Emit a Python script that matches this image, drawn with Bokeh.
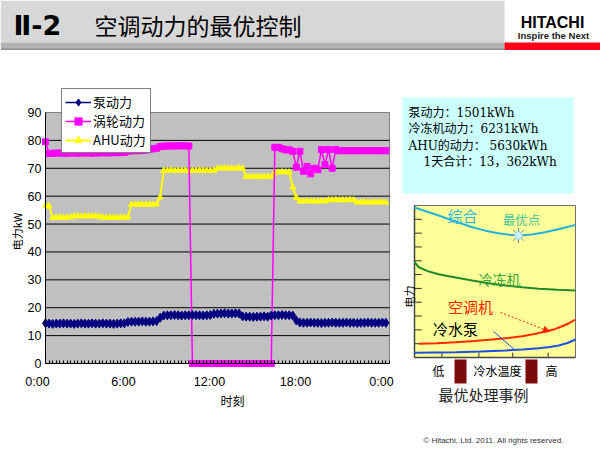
import math
from bokeh.plotting import figure
from bokeh.models import (Range1d, FixedTicker, Legend, LegendItem, Arrow, NormalHead,
                          LinearAxis)
from bokeh.core.properties import value
from bokeh.embed import file_html
from bokeh.resources import INLINE

# ---------------- data ----------------
hours = [i * 0.25 for i in range(96)]          # 15-minute samples, 0:00 .. 23:45

pump_kw = [14.4, 14.3, 14.2, 14.3, 14.3, 14.4, 14.3, 14.3, 14.2, 14.3, 14.4, 14.3,
           14.3, 14.4, 14.3, 14.3, 14.4, 14.3, 14.3, 14.2, 14.3, 14.4, 14.4,
           14.9, 15.0, 15.0, 15.0, 15.1, 15.0, 15.0, 15.1, 15.2,
           16.4,
           17.2, 17.3, 17.3, 17.4, 17.3, 17.2, 17.3, 17.3, 17.4, 17.3, 17.3, 17.2, 17.3, 17.4,
           17.8, 17.9, 17.9, 18.0, 17.9, 17.9, 18.0, 17.9,
           16.9, 16.8, 16.8, 16.7, 16.8, 16.8, 16.9, 16.8,
           17.2, 17.3, 17.3, 17.4, 17.3, 17.3, 17.2,
           15.4,
           14.7, 14.6, 14.6, 14.7, 14.6, 14.6, 14.5, 14.6, 14.6, 14.7, 14.6, 14.6, 14.6,
           14.7, 14.6, 14.6, 14.5, 14.6, 14.6, 14.7, 14.6, 14.6, 14.6, 14.7, 14.6]

turbo_kw = [79.5,
            75.3, 75.4, 75.4, 75.5, 75.4, 75.4, 75.5, 75.5, 75.4, 75.5, 75.5, 75.5, 75.4,
            75.5, 75.5, 75.6, 75.5, 75.5, 75.6, 75.6, 75.6, 75.7,
            76.1, 76.2, 76.3, 76.3, 76.4, 76.5,
            76.8, 77.0, 77.2,
            77.8, 77.9, 78.0, 78.0, 78.0, 78.1, 78.0, 78.0, 78.0,
            0, 0, 0, 0, 0, 0, 0, 0, 0, 0, 0, 0, 0, 0, 0, 0, 0, 0, 0, 0, 0, 0, 0,
            77.5, 77.5, 77.0, 76.6, 76.6, 76.1, 70.4, 76.1, 68.9, 70.6, 68.0, 70.0,
            69.5, 76.7, 71.3, 76.7, 70.0, 76.7,
            76.3, 76.3, 76.3, 76.3, 76.3, 76.3, 76.3, 76.3, 76.3, 76.3, 76.3, 76.3, 76.3, 76.3]

ahu_kw = [56.6, 56.4,
          52.3, 52.4, 52.4, 52.3, 52.4, 52.5,
          52.8, 52.9, 52.8, 52.8, 52.9, 52.8, 52.8, 52.7,
          52.4, 52.3, 52.4, 52.4, 52.3, 52.4, 52.4, 52.5,
          57.0, 57.0, 57.1, 57.0, 57.0, 57.1, 57.0, 57.1,
          59.6,
          69.2, 69.2, 69.3, 69.2, 69.2, 69.2, 69.3, 69.2, 69.2, 69.2, 69.3, 69.2, 69.2, 69.2, 69.2,
          70.0, 70.0, 70.1, 70.0, 70.0, 70.0, 70.1, 70.0,
          67.0, 67.0, 67.1, 67.0, 67.0, 67.0, 67.1, 67.0,
          68.6, 68.6, 68.7, 68.6, 68.6,
          63.2, 59.5,
          58.2, 58.2, 58.3, 58.2, 58.2, 58.2, 58.3, 58.2,
          58.6, 58.6, 58.7, 58.6, 58.6, 58.6, 58.7, 58.6,
          57.8, 57.8, 57.9, 57.8, 57.8, 57.8, 57.9, 57.8, 57.8]

series_names = ["泵动力", "涡轮动力", "AHU动力"]
x_tick_hours = [0, 6, 12, 18, 24]
x_tick_labels = ["0:00", "6:00", "12:00", "18:00", "0:00"]
y_tick_values = [0, 10, 20, 30, 40, 50, 60, 70, 80, 90]

summary_lines = ["泵动力：1501kWh", "冷冻机动力：6231kWh", "AHU的动力：  5630kWh", "1天合计：13，362kWh"]

# schematic (water temperature index 0..10, relative power 0..11)
total_x = [0.0, 0.8, 1.5, 2.5, 3.6, 4.4, 5.2, 5.9, 6.5, 7.3, 8.1, 9.0, 10.0]
total_y = [10.85, 10.55, 10.28, 9.85, 9.43, 9.18, 8.99, 8.88, 8.83, 8.90, 9.07, 9.30, 9.60]
chiller_x = [0.0, 0.27, 0.89, 1.5, 2.13, 2.9, 3.58, 4.6, 5.65, 6.7, 7.72, 8.9, 10.0]
chiller_y = [6.90, 6.53, 6.22, 6.03, 5.88, 5.72, 5.57, 5.38, 5.21, 5.08, 4.97, 4.90, 4.85]
ahu_unit_x = [0.27, 1.4, 2.55, 3.7, 4.83, 5.8, 6.69, 7.45, 8.14, 8.7, 9.17, 9.6, 10.0]
ahu_unit_y = [0.99, 1.04, 1.11, 1.20, 1.30, 1.41, 1.54, 1.70, 1.88, 2.05, 2.26, 2.48, 2.75]
pump_unit_x = [0.0, 1.3, 2.55, 4.1, 5.65, 6.7, 7.72, 8.4, 8.96, 9.5, 10.0]
pump_unit_y = [0.34, 0.36, 0.38, 0.44, 0.51, 0.58, 0.67, 0.76, 0.87, 1.05, 1.30]
optimum_x = [6.46]
optimum_y = [8.83]
small_y_ticks = [1, 2, 3, 4, 5, 6, 7, 8, 9, 10]
small_x_ticks = [1.7, 4.0, 6.1, 8.3]

CJK = "Noto Sans CJK SC"
LAT = "Liberation Sans"
MIXED = "DejaVu Serif, Noto Sans CJK SC"

# ---------------- layout geometry (page pixels) ----------------
W, H = 600, 450
MX0, MX1 = 45.0, 389.0      # main plot area: 0h .. 24h
MYB, MYT = 363.0, 112.0     # main plot area: 0 kW .. 90 kW
SX0, SX1 = 414.0, 575.0     # schematic box
SYB, SYT = 357.0, 205.0

kxm = (MX1 - MX0) / 24.0
kym = (MYB - MYT) / 90.0
p = figure(width=W, height=H,
           x_range=Range1d(-MX0 / kxm, 24 + (W - MX1) / kxm),
           y_range=Range1d(-(H - MYB) / kym, 90 + MYT / kym),
           x_axis_type=None, y_axis_type=None, toolbar_location=None,
           output_backend="svg", min_border=0, outline_line_color=None,
           background_fill_color="white", border_fill_color="white")
p.grid.visible = False

kxs = (SX1 - SX0) / 10.0
kys = (SYB - SYT) / 11.0
p.extra_x_ranges = {"px": Range1d(0, W),
                    "sx": Range1d(-SX0 / kxs, 10 + (W - SX1) / kxs)}
p.extra_y_ranges = {"py": Range1d(H, 0),
                    "sy": Range1d(-(H - SYB) / kys, 11 + SYT / kys)}
P = dict(x_range_name="px", y_range_name="py")
S = dict(x_range_name="sx", y_range_name="sy")


def put(x, y, s, size, color, align="left", angle=0.0, font=CJK, style="normal"):
    p.text(x=[x], y=[y], text=[s], text_font=value(font), text_font_size=size,
           text_font_style=style, text_align=align, text_baseline="middle",
           text_color=color, angle=angle, **P)


# ---------------- title bar ----------------
p.quad(left=[0], right=[504], top=[0], bottom=[42], fill_color="#d7d7d7", line_color=None, **P)
p.quad(left=[0], right=[504], top=[42], bottom=[49], fill_color="#b4b4b4", line_color=None, **P)
p.quad(left=[0], right=[504], top=[48], bottom=[49.5], fill_color="#8f8f8f", line_color=None, **P)
p.quad(left=[504], right=[600], top=[42], bottom=[49.5], fill_color="#ff0019", line_color=None, **P)
put(13, 25, "Ⅱ-2", "27px", "black", font="DejaVu Sans", style="bold")
put(94, 24, "空调动力的最优控制", "23px", "black")
put(552, 22, "HITACHI", "16px", "black", align="center", font=LAT, style="bold")
put(553, 35, "Inspire the Next", "9.5px", "#222222", align="center", font=LAT, style="bold")

# ---------------- main chart ----------------
p.quad(left=[0], right=[24], bottom=[0], top=[90], fill_color="#c0c0c0",
       line_color="#808080", line_width=1)
grid_vals = y_tick_values[1:-1]
p.segment(x0=[0] * len(grid_vals), x1=[24] * len(grid_vals), y0=grid_vals, y1=grid_vals,
          line_color="black", line_width=1)

xaxis = LinearAxis(fixed_location=0, bounds=(0, 24),
                   ticker=FixedTicker(ticks=x_tick_hours, minor_ticks=[i * 0.25 for i in range(97)]))
xaxis.major_label_overrides = {h: "" for h in x_tick_hours}
yaxis = LinearAxis(fixed_location=0, bounds=(0, 90), ticker=FixedTicker(ticks=y_tick_values))
for ax in (xaxis, yaxis):
    ax.axis_line_color = "black"
    ax.major_tick_line_color = "black"
    ax.major_label_text_font = LAT
    ax.major_label_text_font_size = "12.5px"
    ax.major_label_text_color = "black"
xaxis.major_tick_in = 0
xaxis.major_tick_out = 0
xaxis.minor_tick_in = 3
xaxis.minor_tick_out = 0
xaxis.minor_tick_line_color = "black"
yaxis.major_tick_in = 0
yaxis.major_tick_out = 0
yaxis.minor_tick_line_color = None
yaxis.major_label_standoff = 4
p.add_layout(xaxis, "below")
p.add_layout(yaxis, "left")

# hour labels (drawn slightly left of their ticks, as in the original)
p.text(x=x_tick_hours, y=[0] * len(x_tick_hours), text=x_tick_labels,
       text_font=value(LAT), text_font_size="12.5px", text_align="center",
       text_baseline="middle", text_color="black", x_offset=-8, y_offset=18)
put(232, 400, "时刻", "12px", "black", align="center")
put(16, 231, "电力kW", "11px", "black", align="center", angle=math.pi / 2)

ahu_line = p.line(hours, ahu_kw, line_color="#ffff00", line_width=2)
ahu_pts = p.scatter(hours, ahu_kw, marker="triangle", size=6, fill_color="#ffff00", line_color="#ffff00")
tur_line = p.line(hours, turbo_kw, line_color="#ff00ff", line_width=1.5)
tur_pts = p.scatter(hours, turbo_kw, marker="square", size=6, fill_color="#ff00ff", line_color="#ff00ff")
pmp_line = p.line(hours, pump_kw, line_color="#000080", line_width=1.5)
pmp_pts = p.scatter(hours, pump_kw, marker="diamond", size=9, fill_color="#000080", line_color="#000080")

legend = Legend(items=[
    LegendItem(label=series_names[0], renderers=[pmp_line, pmp_pts]),
    LegendItem(label=series_names[1], renderers=[tur_line, tur_pts]),
    LegendItem(label=series_names[2], renderers=[ahu_line, ahu_pts]),
], location=(61, H - 153))
legend.background_fill_color = "white"
legend.background_fill_alpha = 1
legend.border_line_color = "black"
legend.border_line_width = 1
legend.label_text_font = CJK
legend.label_text_font_size = "13px"
legend.label_text_color = "black"
legend.margin = 0
legend.padding = 3
legend.spacing = 0
legend.glyph_height = 18
legend.label_height = 18
legend.glyph_width = 26
legend.label_width = 54
legend.label_standoff = 2
p.add_layout(legend)

# ---------------- right panel ----------------
p.quad(left=[402], right=[573], top=[97], bottom=[193], fill_color="#ccffff", line_color=None, **P)
for i, (s, yy) in enumerate(zip(summary_lines, [112, 128, 145, 161])):
    put(408 if i < 3 else 423, yy, s, "12px", "black", font=MIXED)

p.quad(left=[0], right=[10], bottom=[0], top=[11], fill_color="#ffff99",
       line_color="#707070", line_width=1, **S)
p.segment(x0=[0] * len(small_y_ticks), x1=[0.45] * len(small_y_ticks),
          y0=small_y_ticks, y1=small_y_ticks, line_color="#333333", line_width=1, **S)
p.segment(x0=small_x_ticks, x1=small_x_ticks, y0=[0] * 4, y1=[0.35] * 4,
          line_color="#333333", line_width=1, **S)
p.line([0, 0], [0, 11], line_color="#444444", line_width=1.5, **S)
p.line([0, 10], [0, 0], line_color="#444444", line_width=1.5, **S)

p.line(total_x, total_y, line_color="#22b2de", line_width=2, **S)
p.line(chiller_x, chiller_y, line_color="#1f8a2a", line_width=2, **S)
p.line(ahu_unit_x, ahu_unit_y, line_color="#ff2a00", line_width=2, **S)
p.line(pump_unit_x, pump_unit_y, line_color="#1d4fe6", line_width=2, **S)
p.scatter(optimum_x, optimum_y, marker="asterisk", size=15, line_color="#7a8a99", line_width=1, **S)
p.scatter(optimum_x, optimum_y, marker="circle", size=8, fill_color="#cdeefa",
          line_color="#8fd0ea", **S)

put(462, 215, "综合", "15px", "#2ab5dd", align="center")
put(521, 219, "最优点", "12.5px", "#45c59a", align="center")
put(499, 278, "冷冻机", "14px", "#3aa33a", align="center")
put(470, 306, "空调机", "15px", "#ff2200", align="center")
put(455, 328, "冷水泵", "15px", "black", align="center")
put(408, 296, "电力", "11px", "black", align="center", angle=math.pi / 2)

p.add_layout(Arrow(x_start=500, y_start=312, x_end=549, y_end=331, line_color="#ff2200",
                   line_width=1, line_dash="2 2",
                   end=NormalHead(size=6, fill_color="#ff2200", line_color="#ff2200"), **P))
p.segment(x0=[493], y0=[331], x1=[515], y1=[350], line_color="#1d4fe6", line_width=1, **P)

p.quad(left=[454, 525], right=[466, 537], top=[359, 359], bottom=[383, 383],
       fill_color="#7b0a0a", line_color=None, **P)
put(438, 370, "低", "12px", "black", align="center")
put(497, 370, "冷水温度", "12px", "black", align="center")
put(551, 370, "高", "12px", "black", align="center")
put(483, 394, "最优处理事例", "15px", "#222222", align="center")
put(493, 440, "© Hitachi, Ltd. 2011. All rights reserved.", "8px", "#333333", align="center", font=LAT)

open("out.html", "w").write(file_html(p, INLINE))
